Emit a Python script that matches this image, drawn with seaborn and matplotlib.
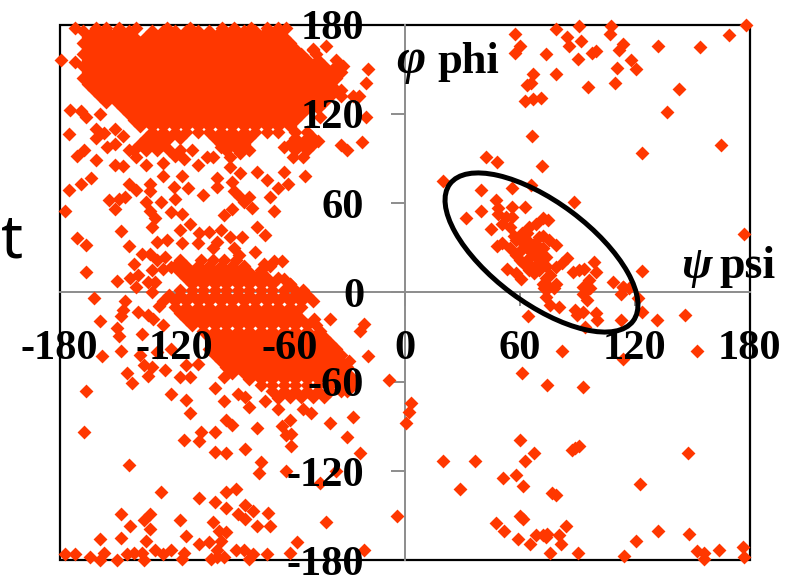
import matplotlib
matplotlib.use("Agg")
import matplotlib.pyplot as plt
from matplotlib.patches import Ellipse, Rectangle
import pandas as pd
import seaborn as sns

tick_values_zero = [-180, -120, -60, 0, 60, 120, 180]
tick_labels = ["-180", "-120", "-60", "0", "60", "120", "180"]

upper_rows = {
    176: [-168,-162,-156,-150,-144,-132,-126,-120,-114,-108,-102,-96,-90,-84,-78,-72,-66],
    172: [-165,-159,-153,-147,-141,-135,-129,-123,-117,-111,-105,-99,-93,-87,-81,-75,-69,-63],
    168: [-168,-162,-156,-150,-144,-138,-132,-126,-120,-114,-108,-102,-96,-90,-84,-78,-72,-66,-60],
    164: [-165,-159,-153,-147,-141,-135,-129,-123,-117,-111,-105,-99,-93,-87,-81,-75,-69,-63,-57,-48],
    160: [-168,-162,-156,-150,-144,-138,-132,-126,-120,-114,-108,-102,-96,-90,-84,-78,-72,-66,-60,-54,-46],
    156: [-165,-159,-153,-147,-141,-135,-129,-123,-117,-111,-105,-99,-93,-87,-81,-75,-69,-63,-57,-51,-45,-36],
    152: [-168,-162,-156,-150,-144,-138,-132,-126,-120,-114,-108,-102,-96,-90,-84,-78,-72,-66,-60,-54,-48,-42,-36,-32],
    148: [-165,-159,-153,-147,-141,-135,-129,-123,-117,-111,-105,-99,-93,-87,-81,-75,-69,-63,-57,-51,-45,-39,-33],
    144: [-168,-162,-156,-150,-144,-138,-132,-126,-120,-114,-108,-102,-96,-90,-84,-78,-72,-66,-60,-54,-48,-42,-36],
    140: [-165,-159,-153,-147,-141,-135,-129,-123,-117,-111,-105,-99,-93,-87,-81,-75,-69,-63,-57,-51,-45,-39],
    136: [-162,-156,-150,-144,-138,-132,-126,-120,-114,-108,-102,-96,-90,-84,-78,-72,-66,-60,-54,-48,-42,-36,-33],
    132: [-159,-153,-147,-141,-135,-129,-123,-117,-111,-105,-99,-93,-87,-81,-75,-69,-63,-57,-51,-45,-39,-33,-27,-24],
    128: [-156,-150,-144,-138,-132,-126,-120,-114,-108,-102,-96,-90,-84,-78,-72,-66,-60,-54,-48,-42],
    124: [-147,-141,-135,-129,-123,-117,-111,-105,-99,-93,-87,-81,-75,-69,-63,-57,-51,-45],
    120: [-144,-138,-132,-126,-120,-114,-108,-102,-96,-90,-84,-78,-72,-66,-60,-54],
    116: [-141,-135,-129,-123,-117,-111,-105,-99,-93,-87,-81,-75,-69,-63,-57],
    112: [-138,-132,-126,-120,-114,-108,-102,-96,-90,-84,-78,-72,-66,-60],
    108: [-132,-126,-120,-114,-108,-102,-96,-90,-84,-78,-72,-66,-57,-51],
    104: [-135,-129,-123,-117,-99,-93,-87,-81,-57,-51],
    100: [-138,-132,-126,-96,-90,-84,-60,-54,-48],
    96: [-141,-135,-129,-123,-117,-111,-93,-87,-81,-57,-51],
}

lower_rows = {
    22: [-117,-106,-100,-94,-88],
    18: [-120,-114,-108,-102,-96,-90,-84,-70],
    14: [-117,-111,-105,-99,-93,-87,-81,-75],
    10: [-114,-108,-102,-96,-90,-84,-78,-72,-66],
    6: [-111,-105,-99,-93,-87,-81,-75,-69,-60],
    2: [-117,-111,-105,-99,-93,-87,-81,-75,-69,-63,-57],
    -2: [-123,-117,-111,-105,-99,-93,-87,-81,-75,-69,-63,-57,-51],
    -6: [-126,-120,-114,-108,-102,-96,-90,-84,-78,-72,-66,-60,-54,-48],
    -10: [-120,-114,-108,-102,-96,-90,-84,-78,-72,-66,-60,-54],
    -14: [-117,-111,-105,-99,-93,-87,-81,-75,-69,-63,-57],
    -18: [-114,-108,-102,-96,-90,-84,-78,-72,-66,-60,-54,-47],
    -22: [-111,-105,-99,-93,-87,-81,-75,-69,-63,-57,-51],
    -26: [-105,-99,-93,-87,-81,-75,-69,-63,-57,-51,-44],
    -30: [-102,-96,-90,-84,-78,-72,-66,-60,-54,-48,-42],
    -34: [-99,-93,-87,-81,-75,-69,-63,-57,-51,-45,-39],
    -38: [-102,-96,-90,-84,-78,-72,-66,-60,-54,-48,-42,-36],
    -42: [-99,-93,-87,-81,-75,-69,-63,-57,-51,-45,-39,-33],
    -46: [-96,-90,-84,-78,-72,-66,-60,-54,-48,-42,-36,-33],
    -50: [-93,-87,-81,-75,-69,-63,-57,-51,-45,-39,-33,-30],
    -54: [-90,-84,-78,-72,-66,-60,-54,-48,-42,-36,-30],
    -58: [-81,-75,-69,-63,-57,-51,-45,-39,-33,-27],
    -62: [-75,-69,-63,-57,-51,-45,-39,-33,-27],
    -66: [-69,-63,-57,-51,-45,-39,-33,-30],
    -70: [-60,-54,-48,-42],
}

scatter_left_upper = [
    (-179,156),(-174.5,123),(-169,122),(-166,118),(-159,120),(-175,106.5),(-161,110),(-157,107),(-151,110),
    (-161,104),(-167,96),(-171,92),(-161,89),(-155,98),(-151,100),(-147,105),(-151,86),(-147,85),(-144,96),
    (-140,91),(-135,86),(-163.5,77),(-169,73),(-175,69),(-144,73),(-140,69),(-133,73),(-133,68),(-126,78),
    (-120.5,71),(-116,78),(-113,70),(-105,65.5),(-98,77),(-98,71),(-177,55),(-154,62),(-146,64),(-149,63),
    (-151,56),(-135,61),(-133,55),(-130,50),(-132,44),(-127,61),(-120,63),(-122,54),(-116,53),(-94,52),
    (-90,56),(-148,41.5),(-171,36.5),(-166,32),(-144,31),(-77,44),(-73,38.5),(-117,42),(-112,46),(-107,40),
    (-102,41),(-96,42),(-91,37),(-85,37),(-129,34),(-124,35),(-133,26),(-137,26),(-141,19),(-129,22),(-125,24),
    (-116,33),(-108,33),(-100,30),(-98,34),(-89,30),(-86.5,25),(-78,27),(-68,21),(-64,21),(-73.5,19),(-75,15),
    (-166,14),(-132,15),(-126,16),(-150,8),(-143,10),(-139,12),(-134,7),(-140,4),(-130,7),(-122,17),(-63,9),
    (-60,6),(-53,1.5),(-126,87),(-120,92),(-115,90),(-108,86),(-103,91),(-100,91),(-96,98),(-91,91),(-86,93.5),
    (-91,84.5),(-86,80),(-90,74),(-89,68),(-86,64),(-81,64),(-79.5,57),(-84,61),(-77,81),(-72,75.5),(-63,81),
    (-61,73),(-66,70),(-70,64),(-68,55),(-52,78),(-53,91),(-58,91),(-63,98),(-58,100),(-45,102),(-33,99),
    (-30,96),(-22,101),(-20,118),(-44,118),(-19,150),(-20,141),(-41,166),(-48,163),(-49,105),
    (-172,178),(-161,178),(-156,178),(-149,178),(-140,178),(-124,178),(-112,178),(-95,178),(-89,178),(-80,178),
    (-72,178),(-66,178),(-62,178),(-172,155),
]
scatter_left_lower = [
    (-162,-4),(-146,-6),(-139,-13),(-159,-19),(-147,-12),(-148,-16),(-132,0),(-150,-24),(-149,-29),(-137,-28),
    (-131,-18),(-134,-15),(-126,-22),(-128,-9),(-148,-39),(-158,-43),(-138,-42),(-136,-49),(-132,-50),(-145,-54),
    (-142,-61),(-134,-56),(-125,-52),(-117,-57),(-112,-57),(-114,-49),(-108,-48),(-122,-38),(-129,-40),(-166,-66),
    (-122,-68),(-114,-72),(-112,-81),(-99,-64),(-94,-57),(-94,-73),(-87,-68),(-81,-77),(-83,-70),(-73,-73),
    (-66,-71),(-66,-78),(-53,-78),(-49,-81),(-39,-18),(-46,-22),(-21,-21),(-23,-26),(-19,-43),(-29,-46),(-8,-59),
    (-39,-88),(-27,-84),(-30,-97),(-93,-86),(-90,-89),(-77,-91),(-60,-86),(-64,-90),(-62,-96),(-59,-95),(-59,-103),
    (-99,-94),(-106,-94),(-107,-100),(-115,-99),(-167,-94),(-99,-107),(-93,-108),(-83,-105),(-75,-114),(-76,-121),
    (-62,-120),(-23,-108),(-36,-120),(-44,-128),(-144,-116),(-127,-134),(-107,-138),(-93,-134),(-88,-132),(-99,-141),
    (-93,-145),(-83,-143),(-79,-147),(-87,-149),(-83,-152),(-71,-148),(-70,-157),(-77,-157),(-41,-154),(-4,-150),
    (-148,-149),(-133,-149),(-136,-153),(-143,-157),(-133,-159),(-117,-153),(-100,-154),(-97,-160),(-93,-161),
    (-159,-166),(-148,-165),(-114,-164),(-135,-167),(-107,-169),(-102,-168),(-96,-167),(-56,-168),(-21,-173),
    (-177,-176),(-172,-176),(-164,-178),(-159,-180),(-157,-175),(-150,-180),(-145,-176),(-141,-175),(-137,-175),
    (-136,-180),(-130,-173),(-126,-176),(-122,-173),(-116,-179),(-115,-175),(-101,-179),(-98,-173),(-98,-178),
    (-94,-178),(-88,-173),(-84,-173),(-81,-179),(-79,-176),(-72,-176),(-60,-175),
]
scatter_right_upper = [
    (178,180),(169.5,173),(154,165),(132.5,166),(107.6,179),(107,174),(91,179),(79,177),(57.6,174),(85,172),
    (92,169),(86,166),(60,166),(57.6,161),(74,160),(90.5,157),(98,161),(100,162),(114,167),(112,163),(118,156),
    (121,150),(111,151),(79,147),(67,147),(66,141),(64,139.5),(95.5,138),(110,141),(143,137),(63,129),(67,130),
    (71,131),(137,121),(66.5,105),(124,94),(165,99),(42.7,91),(48,88),(71.6,85),(20,75),(40,69),(56,70),(66,72),
    (88.6,60.5),(47.5,62),(63,57.6),(56,57.6),(40,54.7),(32,50),(49,53),(45,43),(75,48.6),(72,50),(177,39),(124,14.5),
]
cluster = [
    (49,56.5),(53,51),(56,51),(51,46),(55,44),(48,31),(51,33),(58,35),(60.6,28.5),(64,35),(65,44),(68.4,46),
    (61.5,40),(65,28.5),(68.4,29.5),(70,37),(75.4,35),(79,32),(73.7,24),(79,17),(85,23),(82.4,19.5),(53.6,16),
    (58,13),(60.6,9.4),(65,15),(67.6,13),(70,20.6),(91,15),(93.7,16),(99,20.6),(100,14),(96,8.3),(109,7),
    (114,4),(117,2.7),(79,6),(72,6),(75.4,4),(93,4),(60,35),(62,30),(58,25),(64,22),(68,25),(55,30),(70,28),
    (64,40),(68,33),(72,30),(62,20),(74,18),(76,12),(88,14),(57,38),(60,22),(66,18),(72,38),(70,15),(74,10),
]
scatter_right_lower = [
    (64.4,-16),(74,-3),(76,-8.5),(80.6,-9.7),(73,2.7),(78,2.7),(89,-12),(93,-13),(90,-15),(95,-5),(93,-0.7),
    (97,2.7),(100,-14),(100.6,-18.6),(113,-18.6),(113,-0.7),(114,4),(121.6,-4),(124,-13),(131.5,-18.6),(146.5,-15),
    (94,-23),(82,-39),(152.6,-39),(114,-45),(61.5,-54),(74.5,-62),(93,-63.5),(3.5,-74),(2.3,-80),(1,-88),(60,-99),
    (87.6,-106),(89,-104.5),(91,-103),(67.6,-108),(63,-113),(148,-108),(20,-113),(37,-113),(51.6,-124.5),(58,-123),
    (62,-130),(29,-132),(123,-129),(77,-134.6),(79,-136),(60,-150),(62,-152),(47.5,-155),(52,-160),(59,-166),
    (65.5,-169),(68.4,-163),(72,-163),(74.5,-162),(74,-164.5),(84,-157),(80.6,-163),(81.5,-169),(76,-175),
    (90.5,-175),(114.7,-177),(120.7,-167),(132,-160),(148.5,-162),(152.6,-174),(156.4,-175),(156.4,-179),(164,-173),
    (176.4,-171),(177,-178),
]

points = []
for rows in (upper_rows, lower_rows):
    for phi_value, psi_values in rows.items():
        points.extend((psi_value, phi_value) for psi_value in psi_values)
for group in (scatter_left_upper, scatter_left_lower, scatter_right_upper, cluster, scatter_right_lower):
    points.extend(group)
df = pd.DataFrame(points, columns=["psi", "phi"])

sns.set_theme(style="white")
plt.rcParams["axes.unicode_minus"] = False
SERIF = ["Liberation Serif", "DejaVu Serif"]
W, H = 788, 575
fig = plt.figure(figsize=(W / 100, H / 100), dpi=100)
pos = [59.5 / W, 1 - 560.3 / H, 690 / W, 535.6 / H]

back = fig.add_axes(pos, zorder=0)
back.set_xlim(-180, 180)
back.set_ylim(-180, 180)
for s in ("top", "right"):
    back.spines[s].set_visible(False)
for s in ("left", "bottom"):
    back.spines[s].set_position("zero")
    back.spines[s].set_color("#8c8c8c")
    back.spines[s].set_linewidth(1.4)
back.set_xticks(tick_values_zero)
back.set_yticks(tick_values_zero)
back.tick_params(axis="both", length=10, width=1.4, color="#8c8c8c",
                 labelbottom=False, labelleft=False, bottom=True, left=True)
back.add_patch(Rectangle((0, 0), 1, 1, transform=back.transAxes, fill=False,
                         edgecolor="black", linewidth=1.6, clip_on=False))

ax = fig.add_axes(pos, zorder=1)
ax.patch.set_visible(False)
sns.scatterplot(data=df, x="psi", y="phi", marker="D", s=50, color="#FF3700",
                linewidth=0, ax=ax, clip_on=False, legend=False, zorder=1)
ax.set_xlim(-180, 180)
ax.set_ylim(-180, 180)
ax.set_xlabel("")
ax.set_ylabel("")
for s in ax.spines.values():
    s.set_visible(False)
ax.spines["left"].set_position("zero")
ax.spines["bottom"].set_position("zero")
ax.set_xticks(tick_values_zero, tick_labels)
ax.set_yticks(tick_values_zero, tick_labels)
ax.set_axisbelow(False)
ax.tick_params(axis="both", length=0, labelsize=30.5, labelcolor="black", bottom=True, left=True)
ax.tick_params(axis="x", pad=27)
ax.tick_params(axis="y", pad=29)
for lab in ax.get_xticklabels() + ax.get_yticklabels():
    lab.set_family(SERIF)
    lab.set_fontweight("bold")

ax.add_patch(Ellipse((541.5 / 100, (H - 252.5) / 100), 2.288, 1.01, angle=-36.8,
                     transform=fig.dpi_scale_trans, fill=False, edgecolor="black",
                     linewidth=3.6, clip_on=False, zorder=5))

def label(x, y, s, **kw):
    fig.text(x / W, 1 - y / H, s, va="baseline", ha="left", color="black", zorder=10, **kw)

label(396, 73, "φ", family=SERIF, fontweight="bold", style="italic", fontsize=36)
label(437, 73, "phi", family=SERIF, fontweight="bold", fontsize=32)
label(681, 278, "ψ", family=SERIF, fontweight="bold", style="italic", fontsize=33)
label(719, 278, "psi", family=SERIF, fontweight="bold", fontsize=33)
label(1, 258, "t", family=["Noto Sans"], fontsize=44)

fig.savefig("out.png", dpi=100)
